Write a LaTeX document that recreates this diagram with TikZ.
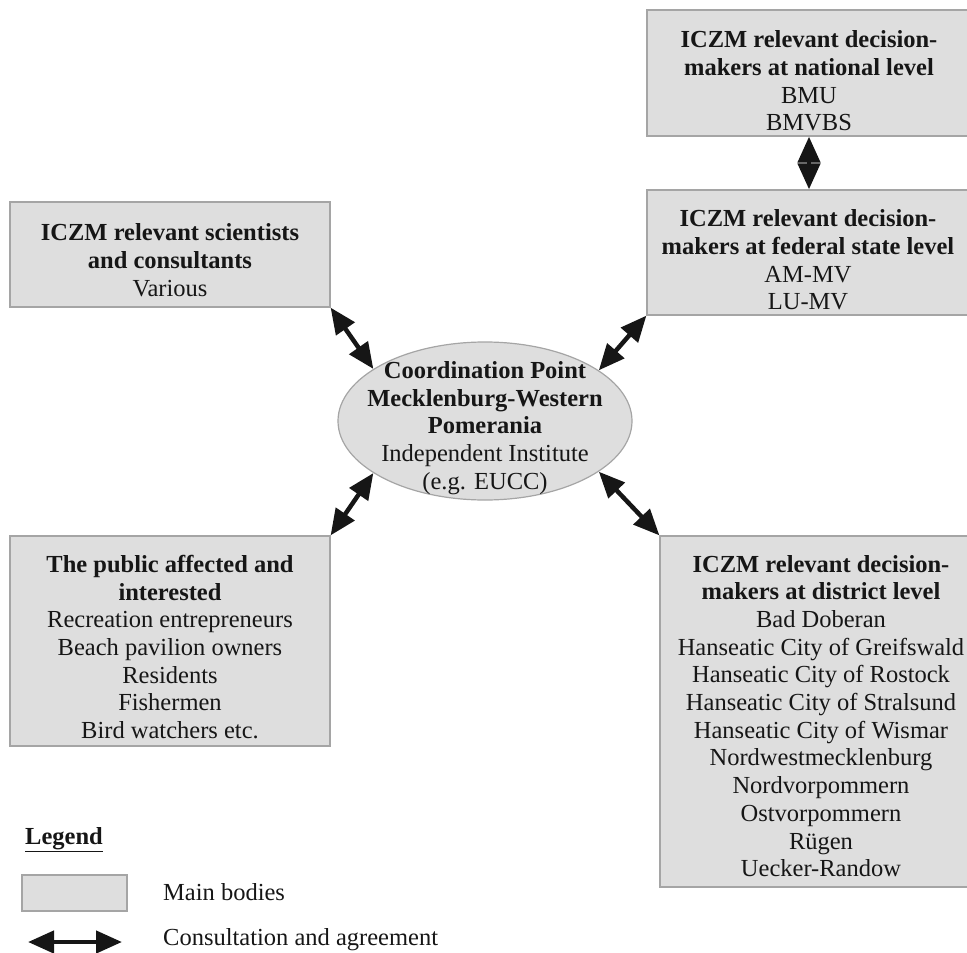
\documentclass[tikz,border=0pt]{standalone}
\usepackage{fontspec}
\setmainfont{Liberation Serif}
\usetikzlibrary{arrows.meta,shapes.geometric}
\definecolor{bodyfill}{RGB}{222,222,222}
\definecolor{bodyline}{RGB}{165,165,165}
\definecolor{ink}{RGB}{22,22,22}
\begin{document}
\begin{tikzpicture}[x=1pt,y=-1pt,
  body/.style={draw=bodyline, fill=bodyfill, line width=1.2pt, inner sep=0pt},
  hub/.style={body, ellipse},
  bodytext/.style={align=center, inner sep=0pt, text=ink,
    font=\fontsize{24.5}{27.7}\selectfont},
  link/.style={draw=ink, line width=4.5pt,
    {Triangle[length=26pt,width=22pt]}-{Triangle[length=26pt,width=22pt]}}
]
\useasboundingbox (0,0) rectangle (967,953);

% main bodies
\node[body, minimum width=324, minimum height=126] (nat)  at (809,73)    {};
\node[body, minimum width=324, minimum height=125] (fed)  at (809,252.5) {};
\node[body, minimum width=320, minimum height=105] (sci)  at (170,254.5) {};
\node[body, minimum width=320, minimum height=210] (pub)  at (170,641)   {};
\node[body, minimum width=322, minimum height=351] (dist) at (821,711.5) {};
\node[hub, minimum width=294, minimum height=158]  (cp)   at (485,421)   {};

% texts of the bodies
\node[bodytext] (nattxt) at (809,81)
  {\textbf{ICZM relevant decision-}\\\textbf{makers at national level}\\BMU\\BMVBS};
\node[bodytext] (fedtxt) at (808,260)
  {\textbf{ICZM relevant decision-}\\\textbf{makers at federal state level}\\AM-MV\\LU-MV};
\node[bodytext] (scitxt) at (170,260)
  {\textbf{ICZM relevant scientists}\\\textbf{and consultants}\\Various};
\node[bodytext] (pubtxt) at (170,647)
  {\textbf{The public affected and}\\\textbf{interested}\\Recreation entrepreneurs\\
   Beach pavilion owners\\Residents\\Fishermen\\Bird watchers etc.};
\node[bodytext] (disttxt) at (821,716)
  {\textbf{ICZM relevant decision-}\\\textbf{makers at district level}\\Bad Doberan\\
   Hanseatic City of Greifswald\\Hanseatic City of Rostock\\Hanseatic City of Stralsund\\
   Hanseatic City of Wismar\\Nordwestmecklenburg\\Nordvorpommern\\Ostvorpommern\\
   Rügen\\Uecker-Randow};
\node[bodytext] (cptxt) at (485,428)
  {\textbf{Coordination Point}\\\textbf{Mecklenburg-Western}\\\textbf{Pomerania}\\
   Independent Institute\\(e.g. EUCC)};

% consultation links
\draw[link] (nat.south) -- (fed.north);
\draw[link] (sci.south east) -- (cp.155);
\draw[link] (fed.south west) -- (cp.24);
\draw[link] (pub.north east) -- (cp.205);
\draw[link] (dist.north west) -- (cp.-24);

% legend
\node[bodytext, anchor=west] (legend) at (25,840) {\textbf{\underline{Legend}}};
\node[body, minimum width=105, minimum height=36] (keybox) at (74.5,893) {};
\node[bodytext, anchor=west] (keyboxtxt) at (163,892) {Main bodies};
\coordinate (keya) at (28,942);
\coordinate (keyb) at (122,942);
\draw[link] (keya) -- (keyb);
\node[bodytext, anchor=west] (keylinktxt) at (163,940) {Consultation and agreement};
\end{tikzpicture}
\end{document}
